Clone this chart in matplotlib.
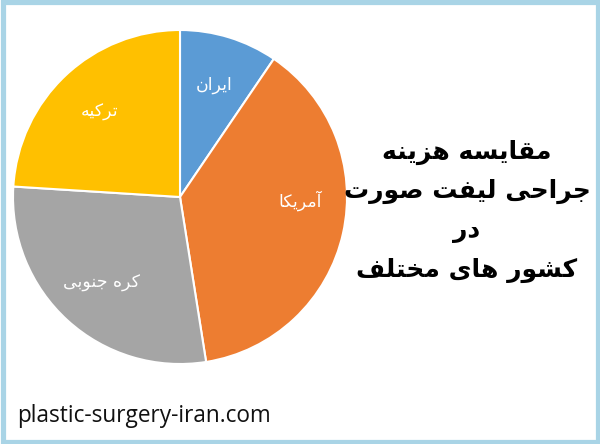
import matplotlib.pyplot as plt
from matplotlib.patches import Rectangle

countries = ['ایران', 'آمریکا', 'کره جنوبی', 'ترکیه']
shares = [9.5, 38.0, 28.5, 24.0]
colors = ['#5B9BD5', '#ED7D31', '#A5A5A5', '#FFC000']
title_lines = ['مقایسه هزینه', 'جراحی لیفت صورت', 'در', 'کشور های مختلف']
site = 'plastic-surgery-iran.com'

# matplotlib has no arabic shaping, so do it by hand
# letter: (isolated, final, initial, medial); two entries -> joins only to the right
FORMS = {
    'ا': (0xFE8D, 0xFE8E), 'آ': (0xFE81, 0xFE82), 'د': (0xFEA9, 0xFEAA),
    'ر': (0xFEAD, 0xFEAE), 'ز': (0xFEAF, 0xFEB0), 'و': (0xFEED, 0xFEEE),
    'ب': (0xFE8F, 0xFE90, 0xFE91, 0xFE92), 'ت': (0xFE95, 0xFE96, 0xFE97, 0xFE98),
    'ج': (0xFE9D, 0xFE9E, 0xFE9F, 0xFEA0), 'ح': (0xFEA1, 0xFEA2, 0xFEA3, 0xFEA4),
    'خ': (0xFEA5, 0xFEA6, 0xFEA7, 0xFEA8), 'س': (0xFEB1, 0xFEB2, 0xFEB3, 0xFEB4),
    'ش': (0xFEB5, 0xFEB6, 0xFEB7, 0xFEB8), 'ص': (0xFEB9, 0xFEBA, 0xFEBB, 0xFEBC),
    'ف': (0xFED1, 0xFED2, 0xFED3, 0xFED4), 'ق': (0xFED5, 0xFED6, 0xFED7, 0xFED8),
    'ل': (0xFEDD, 0xFEDE, 0xFEDF, 0xFEE0), 'م': (0xFEE1, 0xFEE2, 0xFEE3, 0xFEE4),
    'ن': (0xFEE5, 0xFEE6, 0xFEE7, 0xFEE8), 'ه': (0xFEE9, 0xFEEA, 0xFEEB, 0xFEEC),
    'ک': (0xFB8E, 0xFB8F, 0xFB90, 0xFB91), 'ی': (0xFBFC, 0xFBFD, 0xFBFE, 0xFBFF),
}


def shape(s):
    out = []
    for i, ch in enumerate(s):
        if ch not in FORMS:
            out.append(ch)
            continue
        prev = s[i-1] if i > 0 else ''
        nxt = s[i+1] if i + 1 < len(s) else ''
        f = FORMS[ch]
        left = prev in FORMS and len(FORMS[prev]) == 4
        right = len(f) == 4 and nxt in FORMS
        if left and right:
            c = f[3]
        elif left:
            c = f[1]
        elif right:
            c = f[2]
        else:
            c = f[0]
        out.append(chr(c))
    return ''.join(out)[::-1]


fig = plt.figure(figsize=(6, 4.44), dpi=100)
fig.patch.set_facecolor('white')
# light blue frame round the picture
fig.patches.append(Rectangle((2.5/600, 2.5/444), 595/600, 439/444, transform=fig.transFigure,
                             facecolor='none', edgecolor='#A9D4E6', linewidth=3.75, zorder=10))

# pie centre (180, 197) px, radius 167 px
r = 167
ax = fig.add_axes([(180-r)/600, 1-(197+r)/444, 2*r/600, 2*r/444])
wedges, texts = ax.pie(shares, labels=[shape(c) for c in countries], colors=colors,
                       startangle=90, counterclock=False, labeldistance=0.7,
                       wedgeprops=dict(edgecolor='white', linewidth=1.5),
                       textprops=dict(color='white', fontsize=12.5, family='DejaVu Sans'))
for t in texts:
    t.set_ha('center')
    t.set_va('center')
texts[1].set_position((0.72, -0.02))
ax.set_xlim(-1, 1)
ax.set_ylim(-1, 1)
ax.axis('off')

ys = [152, 191, 231, 270]
for line, y in zip(title_lines, ys):
    fig.text(467/600, 1-y/444, shape(line), ha='center', va='center',
             fontsize=18, fontweight='bold', family='DejaVu Sans')

fig.text(17/600, 1-416/444, site, ha='left', va='center', fontsize=16.3,
         family='Open Sans', color='#111111')

fig.savefig('out.png', dpi=100)
